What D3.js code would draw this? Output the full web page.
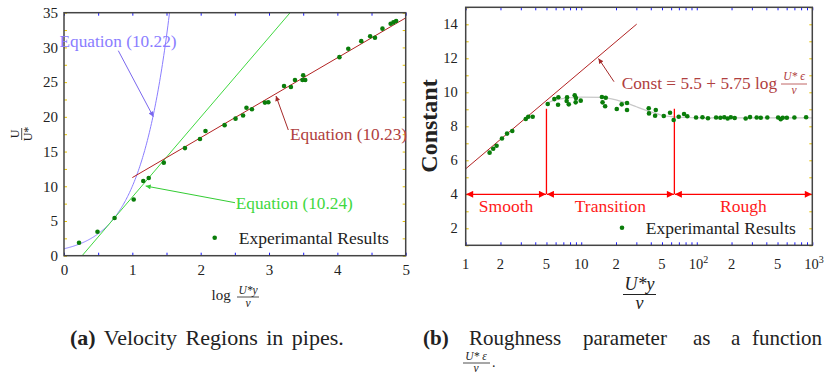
<!DOCTYPE html>
<html><head><meta charset="utf-8">
<script src="https://cdn.jsdelivr.net/npm/d3@7"></script>
<style>
body{margin:0;background:#fff}
text{font-family:"Liberation Serif","Times New Roman",serif;fill:#222}
</style></head>
<body><svg id="c" width="825" height="373"></svg>
<script>
// ---------- Data: left panel (velocity regions) ----------
const expLogY = [0.22,0.49,0.74,1.02,1.16,1.24,1.46,1.77,1.99,2.07,2.35,2.51,2.62,2.67,2.75,2.94,2.99,3.22,3.32,3.38,3.50,3.49,3.53,4.03,4.16,4.35,4.48,4.55,4.66,4.78,4.82,4.86];
const expU    = [1.87,3.46,5.43,8.1,10.76,11.2,13.4,15.5,16.8,17.97,18.8,19.74,20.2,21.3,21.1,22.05,22.1,24.45,24.3,25.3,26.0,25.3,25.3,28.6,29.8,30.9,31.6,31.4,32.7,33.4,33.6,33.8];
const leftXTicks = [0,1,2,3,4,5];
const leftYTicks = [0,5,10,15,20,25,30,35];
// Equation coefficients: U/U* = a*log(y+) + b
const eq23 = {a:5.75, b:5.5, x0:1, x1:5};     // Equation (10.23)
const eq24 = {a:11.5, b:-3.05};               // Equation (10.24)
// Equation (10.22): U/U* = U*y/nu (viscous sublayer)

// ---------- Data: right panel (roughness constant) ----------
const roughRe = [1.61,1.73,1.85,2.06,2.28,2.53,3.31,3.48,3.8,
  5.13,5.85,6.34,6.3,7.54,7.48,7.8,8.78,9.0,8.95,9.9,15.1,16.3,15.3,16.1,20.3,22.4,24.9,24.9,38.4,38.6,44.2,43.6,51.8,58.7,63.1,69.8,77.6,82.8,
  98.6,112,125,147,160,173,185,197,213,265,289,330,358,408,506,533,555,602,700,884];
const roughC = [6.45,6.68,6.86,7.28,7.57,7.72,8.43,8.56,8.56,
  9.31,9.6,9.71,9.27,9.71,9.49,9.29,9.82,9.66,9.41,9.51,9.72,9.68,9.41,9.18,9.02,9.29,9.37,8.96,9.06,8.76,8.96,8.62,8.61,8.8,8.37,8.56,8.72,8.59,
  8.52,8.53,8.47,8.52,8.5,8.53,8.46,8.53,8.49,8.46,8.54,8.52,8.5,8.52,8.52,8.42,8.5,8.5,8.52,8.53];
const fitRe = [5,6,8,10,15,20,25,30,40,50,60,80,100,1000];
const fitC  = [9.35,9.55,9.68,9.72,9.7,9.55,9.35,9.15,8.85,8.65,8.57,8.52,8.5,8.5];
const constLine = {a:5.75, b:5.5, x0:1, x1:30.2};
const regionBounds = [1,5,64,1000];
const regionNames = ["Smooth","Transition","Rough"];
const rightXTickLabels = [[1,"1"],[2,"2"],[5,"5"],[10,"10"],[20,"2"],[50,"5"],[100,"10","2"],[200,"2"],[500,"5"],[1000,"10","3"]];
const rightYTicks = [2,4,6,8,10,12,14];

const svg = d3.select("#c");
const defs = svg.append("defs");
function mk(id,color,w,h){
  defs.append("marker").attr("id",id).attr("viewBox","0 0 10 10").attr("refX",10).attr("refY",5)
    .attr("markerWidth",w).attr("markerHeight",h).attr("markerUnits","userSpaceOnUse").attr("orient","auto-start-reverse")
    .append("path").attr("d","M0,0L10,5L0,10z").attr("fill",color);
}
mk("aBlue","#7b68ee",6,5); mk("aRed","#a52a2a",6,5); mk("aGreen","#33cc33",6,5); mk("aRR","#ff0000",12,7);

const frameCol="#444", tickBlue="#1a1aff", tickYel="#e6c200";
function tickStyle(col){return g=>{g.select(".domain").remove();g.selectAll("line").attr("stroke",col);};}
function labStyle(fs){return g=>{g.select(".domain").remove();g.attr("font-family",null);g.selectAll("text").attr("font-size",fs).attr("fill","#222");};}

// ================= LEFT PANEL =================
const xL = d3.scaleLinear([0,5],[64,405.7]);
const yL = d3.scaleLinear([0,35],[255.7,12.7]);
const gL = svg.append("g");

const tb = d3.range(0,5.01,0.5), ty = d3.range(0,35.01,2.5);
gL.append("g").attr("transform",`translate(0,${yL(0)})`).call(d3.axisBottom(xL).tickValues(tb).tickSize(-3).tickFormat("")).call(tickStyle(tickBlue));
gL.append("g").attr("transform",`translate(0,${yL(35)})`).call(d3.axisTop(xL).tickValues(tb).tickSize(-3).tickFormat("")).call(tickStyle(tickBlue));
gL.append("g").attr("transform",`translate(${xL(0)},0)`).call(d3.axisLeft(yL).tickValues(ty).tickSize(-3).tickFormat("")).call(tickStyle(tickYel));
gL.append("g").attr("transform",`translate(${xL(5)},0)`).call(d3.axisRight(yL).tickValues(ty).tickSize(-3).tickFormat("")).call(tickStyle(tickYel));
gL.append("g").attr("transform",`translate(0,${yL(0)})`).call(d3.axisBottom(xL).tickValues(leftXTicks).tickSize(0).tickPadding(9).tickFormat(d3.format("d"))).call(labStyle(15));
gL.append("g").attr("transform",`translate(${xL(0)},0)`).call(d3.axisLeft(yL).tickValues(leftYTicks).tickSize(0).tickPadding(6).tickFormat(d3.format("d"))).call(labStyle(15));

defs.append("clipPath").attr("id","clipL").append("rect").attr("x",xL(0)).attr("y",yL(35)).attr("width",xL(5)-xL(0)).attr("height",yL(0)-yL(35));
const pL = gL.append("g").attr("clip-path","url(#clipL)");
const xs22 = d3.range(0,1.6,0.01);
pL.append("path").attr("d",d3.line().x(d=>xL(d)).y(d=>yL(Math.pow(10,d)))(xs22)).attr("fill","none").attr("stroke","#8a7dff").attr("stroke-width",1);
const x24a=(0-eq24.b)/eq24.a, x24b=(35-eq24.b)/eq24.a;
pL.append("line").attr("x1",xL(x24a)).attr("y1",yL(0)).attr("x2",xL(x24b)).attr("y2",yL(35)).attr("stroke","#40d840").attr("stroke-width",1);
pL.append("line").attr("x1",xL(eq23.x0)).attr("y1",yL(eq23.a*eq23.x0+eq23.b)).attr("x2",xL(eq23.x1)).attr("y2",yL(eq23.a*eq23.x1+eq23.b)).attr("stroke","#b22222").attr("stroke-width",1);
pL.selectAll("circle").data(expLogY).join("circle").attr("cx",d=>xL(d)).attr("cy",(d,i)=>yL(expU[i])).attr("r",2.3).attr("fill","#0a7d0a");
gL.append("rect").attr("x",xL(0)).attr("y",yL(35)).attr("width",xL(5)-xL(0)).attr("height",yL(0)-yL(35)).attr("fill","none").attr("stroke",frameCol).attr("stroke-width",1.5);

gL.append("text").attr("x",59.5).attr("y",47).attr("font-size",17.3).style("fill","#8a7dff").text("Equation (10.22)");
gL.append("line").attr("x1",118.3).attr("y1",50.7).attr("x2",153.3).attr("y2",116.7).attr("stroke","#7b68ee").attr("stroke-width",1).attr("marker-end","url(#aBlue)");
gL.append("text").attr("x",290).attr("y",140).attr("font-size",17.3).style("fill","#b04040").text("Equation (10.23)");
gL.append("line").attr("x1",288.3).attr("y1",130).attr("x2",276).attr("y2",96).attr("stroke","#a52a2a").attr("stroke-width",1).attr("marker-end","url(#aRed)");
gL.append("text").attr("x",235.7).attr("y",208.5).attr("font-size",17.3).style("fill","#40d840").text("Equation (10.24)");
gL.append("line").attr("x1",235).attr("y1",202.7).attr("x2",145.7).attr("y2",186).attr("stroke","#33cc33").attr("stroke-width",1).attr("marker-end","url(#aGreen)");
gL.append("circle").attr("cx",214.7).attr("cy",237.7).attr("r",2.3).attr("fill","#0a7d0a");
gL.append("text").attr("x",238.7).attr("y",243.5).attr("font-size",17.5).text("Experimantal Results");

const yt = gL.append("g").attr("transform","translate(21.7,134) rotate(-90)");
yt.append("text").attr("x",0).attr("y",-3).attr("text-anchor","middle").attr("font-size",12).text("U");
yt.append("line").attr("x1",-6).attr("x2",6).attr("y1",0).attr("y2",0).attr("stroke","#222").attr("stroke-width",0.8);
yt.append("text").attr("x",0).attr("y",10).attr("text-anchor","middle").attr("font-size",12).text("U*");
const xt = gL.append("g");
xt.append("text").attr("x",211.5).attr("y",300).attr("font-size",15).text("log");
xt.append("text").attr("x",248).attr("y",294).attr("text-anchor","middle").attr("font-size",11.5).attr("font-style","italic").text("U*y");
xt.append("line").attr("x1",237).attr("x2",259).attr("y1",297).attr("y2",297).attr("stroke","#222").attr("stroke-width",0.8);
xt.append("text").attr("x",248).attr("y",307).attr("text-anchor","middle").attr("font-size",11.5).attr("font-style","italic").text("ν");

// ================= RIGHT PANEL =================
const xR = d3.scaleLog([1,1000],[465.7,812.3]);
const yR = d3.scaleLinear([1,15],[245.3,7.3]);
const gR = svg.append("g");
const logTicks = [];
[1,10,100].forEach(dec=>{for(let k=1;k<10;k++) logTicks.push(dec*k);}); logTicks.push(1000);
gR.append("g").attr("transform",`translate(0,${yR(1)})`).call(d3.axisBottom(xR).tickValues(logTicks).tickSize(-3).tickFormat("")).call(tickStyle(tickBlue));
gR.append("g").attr("transform",`translate(0,${yR(15)})`).call(d3.axisTop(xR).tickValues(logTicks).tickSize(-3).tickFormat("")).call(tickStyle(tickBlue));
const yTicksAll = d3.range(1,15.01,1);
gR.append("g").attr("transform",`translate(${xR(1)},0)`).call(d3.axisLeft(yR).tickValues(yTicksAll).tickSize(-3).tickFormat("")).call(tickStyle(tickYel));
gR.append("g").attr("transform",`translate(${xR(1000)},0)`).call(d3.axisRight(yR).tickValues(yTicksAll).tickSize(-3).tickFormat("")).call(tickStyle(tickYel));
gR.append("g").attr("transform",`translate(${xR(1)},0)`).call(d3.axisLeft(yR).tickValues(rightYTicks).tickSize(0).tickPadding(8).tickFormat(d3.format("d"))).call(labStyle(14.5));
const xlab = gR.append("g").selectAll("text").data(rightXTickLabels).join("text")
  .attr("x",d=>xR(d[0])).attr("y",268.5).attr("text-anchor","middle").attr("font-size",14.5);
xlab.text(d=>d[1]);
xlab.filter(d=>d.length>2).append("tspan").attr("dy",-6).attr("font-size",10).text(d=>d[2]);
xlab.filter(d=>d.length>2).attr("text-anchor","start").attr("x",d=>xR(d[0])-8);

defs.append("clipPath").attr("id","clipR").append("rect").attr("x",xR(1)).attr("y",yR(15)).attr("width",xR(1000)-xR(1)).attr("height",yR(1)-yR(15));
const pR = gR.append("g").attr("clip-path","url(#clipR)");
pR.append("path").attr("d",d3.line().x(d=>xR(d)).y((d,i)=>yR(fitC[i])).curve(d3.curveMonotoneX)(fitRe)).attr("fill","none").attr("stroke","#c8c8c8").attr("stroke-width",1.2);
pR.append("line").attr("x1",xR(constLine.x0)).attr("y1",yR(constLine.b+constLine.a*Math.log10(constLine.x0)))
  .attr("x2",xR(constLine.x1)).attr("y2",yR(constLine.b+constLine.a*Math.log10(constLine.x1))).attr("stroke","#b22222").attr("stroke-width",1);
regionBounds.slice(1,3).forEach(b=>{
  pR.append("line").attr("x1",xR(b)).attr("x2",xR(b)).attr("y1",108.7).attr("y2",yR(4)).attr("stroke","#ff0000").attr("stroke-width",1.3);
});
for(let i=0;i<3;i++){
  pR.append("line").attr("x1",xR(regionBounds[i])+0.5).attr("x2",xR(regionBounds[i+1])-0.5).attr("y1",yR(4)).attr("y2",yR(4))
    .attr("stroke","#ff0000").attr("stroke-width",1.3).attr("marker-start","url(#aRR)").attr("marker-end","url(#aRR)");
  gR.append("text").attr("x",(xR(regionBounds[i])+xR(regionBounds[i+1]))/2)
    .attr("y",212).attr("text-anchor","middle").attr("font-size",17.5).style("fill","#ff1a1a").text(regionNames[i]);
}
pR.selectAll("circle").data(roughRe).join("circle").attr("cx",d=>xR(d)).attr("cy",(d,i)=>yR(roughC[i])).attr("r",2.3).attr("fill","#0a7d0a");
gR.append("rect").attr("x",xR(1)).attr("y",yR(15)).attr("width",xR(1000)-xR(1)).attr("height",yR(1)-yR(15)).attr("fill","none").attr("stroke",frameCol).attr("stroke-width",1.5);

gR.append("line").attr("x1",614).attr("y1",81.7).attr("x2",598.5).attr("y2",58.5).attr("stroke","#a52a2a").attr("stroke-width",1).attr("marker-end","url(#aRed)");
const ann = gR.append("g");
ann.append("text").attr("x",621.7).attr("y",89).attr("font-size",17.3).style("fill","#b04040").text("Const = 5.5 + 5.75 log");
ann.append("text").attr("x",794).attr("y",80).attr("text-anchor","middle").attr("font-size",11.5).attr("font-style","italic").style("fill","#b04040").text("U* ϵ");
ann.append("line").attr("x1",781).attr("x2",807).attr("y1",84).attr("y2",84).attr("stroke","#b04040").attr("stroke-width",0.8);
ann.append("text").attr("x",794).attr("y",94).attr("text-anchor","middle").attr("font-size",11.5).attr("font-style","italic").style("fill","#b04040").text("ν");
gR.append("circle").attr("cx",622).attr("cy",227.7).attr("r",2.3).attr("fill","#0a7d0a");
gR.append("text").attr("x",645.7).attr("y",233.5).attr("font-size",17.5).text("Experimantal Results");
gR.append("text").attr("transform","translate(437,126) rotate(-90)").attr("text-anchor","middle").attr("font-size",24).attr("font-weight","bold").text("Constant");
gR.append("text").attr("x",639.5).attr("y",290).attr("text-anchor","middle").attr("font-size",18).attr("font-style","italic").text("U*y");
gR.append("line").attr("x1",623).attr("x2",656).attr("y1",294.5).attr("y2",294.5).attr("stroke","#222").attr("stroke-width",1);
gR.append("text").attr("x",639.5).attr("y",309).attr("text-anchor","middle").attr("font-size",18).attr("font-style","italic").text("ν");

// ================= CAPTIONS =================
const capFs = 21;
const cap = svg.append("g");
const ca = cap.append("text").attr("x",70).attr("y",345).attr("font-size",22).attr("word-spacing",3);
ca.append("tspan").attr("font-weight","bold").text("(a)");
ca.append("tspan").text(" Velocity Regions in pipes.");
const capWords = [["(b)",423,true,"start"],["Roughness",469,false,"start"],["parameter",583,false,"start"],["as",693,false,"start"],["a",731,false,"start"],["function",822,false,"end"]];
cap.selectAll("text.w").data(capWords).join("text").attr("class","w").attr("x",d=>d[1]).attr("y",345).attr("font-size",capFs)
  .attr("text-anchor",d=>d[3]).attr("font-weight",d=>d[2]?"bold":"normal").text(d=>d[0]);
cap.append("text").attr("x",476).attr("y",360).attr("text-anchor","middle").attr("font-size",11.5).attr("font-style","italic").text("U* ε");
cap.append("line").attr("x1",463).attr("x2",490).attr("y1",363).attr("y2",363).attr("stroke","#222").attr("stroke-width",0.8);
cap.append("text").attr("x",476).attr("y",371.5).attr("text-anchor","middle").attr("font-size",11.5).attr("font-style","italic").text("ν");
cap.append("text").attr("x",492).attr("y",367).attr("font-size",14).text(".");
</script></body></html>
